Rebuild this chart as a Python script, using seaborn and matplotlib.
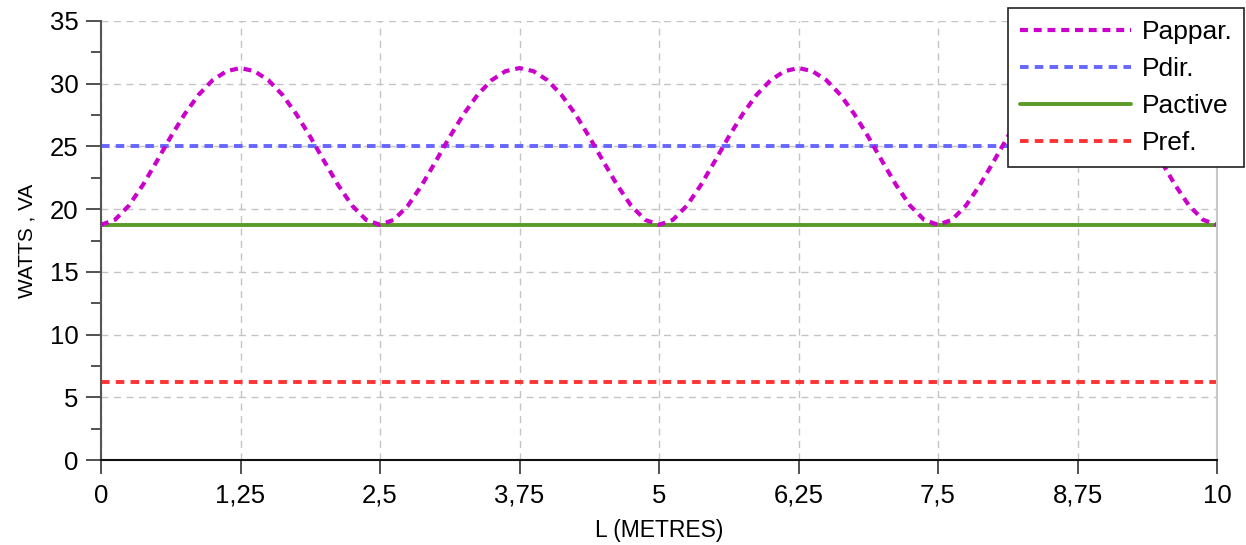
import numpy as np
import pandas as pd
import matplotlib
matplotlib.use("Agg")
import matplotlib.pyplot as plt
import seaborn as sns

# ---- data ----
x_m = np.linspace(0, 10, 81)  # L (metres), sample every 0.125 m
pappar = [
    18.75, 19.15, 20.28, 21.92, 23.82, 25.77, 27.58, 29.12, 30.28, 31.00,
    31.25, 31.00, 30.28, 29.12, 27.58, 25.77, 23.82, 21.92, 20.28, 19.15,
    18.75, 19.15, 20.28, 21.92, 23.82, 25.77, 27.58, 29.12, 30.28, 31.00,
    31.25, 31.00, 30.28, 29.12, 27.58, 25.77, 23.82, 21.92, 20.28, 19.15,
    18.75, 19.15, 20.28, 21.92, 23.82, 25.77, 27.58, 29.12, 30.28, 31.00,
    31.25, 31.00, 30.28, 29.12, 27.58, 25.77, 23.82, 21.92, 20.28, 19.15,
    18.75, 19.15, 20.28, 21.92, 23.82, 25.77, 27.58, 29.12, 30.28, 31.00,
    31.25, 31.00, 30.28, 29.12, 27.58, 25.77, 23.82, 21.92, 20.28, 19.15,
    18.75,
]
pdir_value = 25.0
pactive_value = 18.75
pref_value = 6.25

series_names = ["Pappar.", "Pdir.", "Pactive", "Pref."]
x_ticks = [0, 1.25, 2.5, 3.75, 5, 6.25, 7.5, 8.75, 10]
x_tick_labels = ["0", "1,25", "2,5", "3,75", "5", "6,25", "7,5", "8,75", "10"]
y_ticks = [0, 5, 10, 15, 20, 25, 30, 35]
y_tick_labels = ["0", "5", "10", "15", "20", "25", "30", "35"]

df = pd.DataFrame({
    "L": x_m,
    "Pappar.": pappar,
    "Pdir.": [pdir_value] * len(x_m),
    "Pactive": [pactive_value] * len(x_m),
    "Pref.": [pref_value] * len(x_m),
})

# ---- style ----
sns.set_theme(style="white")
plt.rcParams["font.family"] = ["Liberation Sans", "DejaVu Sans"]
plt.rcParams["text.color"] = "black"
plt.rcParams["axes.labelcolor"] = "black"
plt.rcParams["xtick.color"] = "black"
plt.rcParams["ytick.color"] = "black"

fig = plt.figure(figsize=(12.46, 5.45), dpi=100)
W, H = 1246, 545
ax = fig.add_axes([101 / W, 1 - 460 / H, (1217 - 101) / W, (460 - 21) / H])

styles = {
    "Pappar.": dict(color="#cc00cc", lw=3.0, linestyle=(0, (1.9, 1.4))),
    "Pdir.": dict(color="#6666ff", lw=2.8, linestyle=(0, (2.2, 1.6))),
    "Pactive": dict(color="#5a9a28", lw=2.8, linestyle="-"),
    "Pref.": dict(color="#ff3333", lw=2.8, linestyle=(0, (2.2, 1.6))),
}

handles = {}
for name in reversed(series_names):
    sns.lineplot(data=df, x="L", y=name, ax=ax, label=name, **styles[name])
    handles[name] = ax.get_lines()[-1]

ax.set_xlim(0, 10)
ax.set_ylim(0, 35)
ax.set_xticks(x_ticks)
ax.set_xticklabels(x_tick_labels)
ax.set_yticks(y_ticks)
ax.set_yticklabels(y_tick_labels)
ax.set_yticks([2.5, 7.5, 12.5, 17.5, 22.5, 27.5, 32.5], minor=True)

ax.grid(True, which="major", color="#c4c4c4", linestyle=(0, (5, 4)), linewidth=1.0)
ax.set_axisbelow(True)

ax.tick_params(axis="both", which="both", bottom=True, left=True)
ax.tick_params(axis="both", which="major", direction="out", length=10, width=1.2,
               color="#333333", labelcolor="black", labelsize=18.5, pad=7)
ax.tick_params(axis="y", which="minor", direction="out", length=7, width=1.2, color="#333333")
ax.tick_params(axis="y", which="major", length=11, pad=5)

ax.spines["top"].set_visible(False)
ax.spines["right"].set_color("#c8c8c8")
ax.spines["right"].set_linewidth(1.5)
ax.spines["left"].set_color("#555555")
ax.spines["left"].set_linewidth(1.5)
ax.spines["bottom"].set_color("#111111")
ax.spines["bottom"].set_linewidth(1.5)

ax.set_xlabel("L (METRES)", fontsize=16.5, labelpad=8, color="black")
ax.set_ylabel("WATTS , VA", fontsize=15, labelpad=10, color="black")

leg = ax.legend([handles[n] for n in series_names], series_names,
                loc="upper right", bbox_to_anchor=(1244 / W, 1 - 8 / H),
                bbox_transform=fig.transFigure, borderaxespad=0,
                fontsize=19, frameon=True, fancybox=False, framealpha=1,
                edgecolor="#222222", handlelength=4.2, labelspacing=0.5,
                handletextpad=0.4, borderpad=0.45)
leg.get_frame().set_linewidth(1.2)
for t in leg.get_texts():
    t.set_color("black")

fig.savefig("out.png", dpi=100)
